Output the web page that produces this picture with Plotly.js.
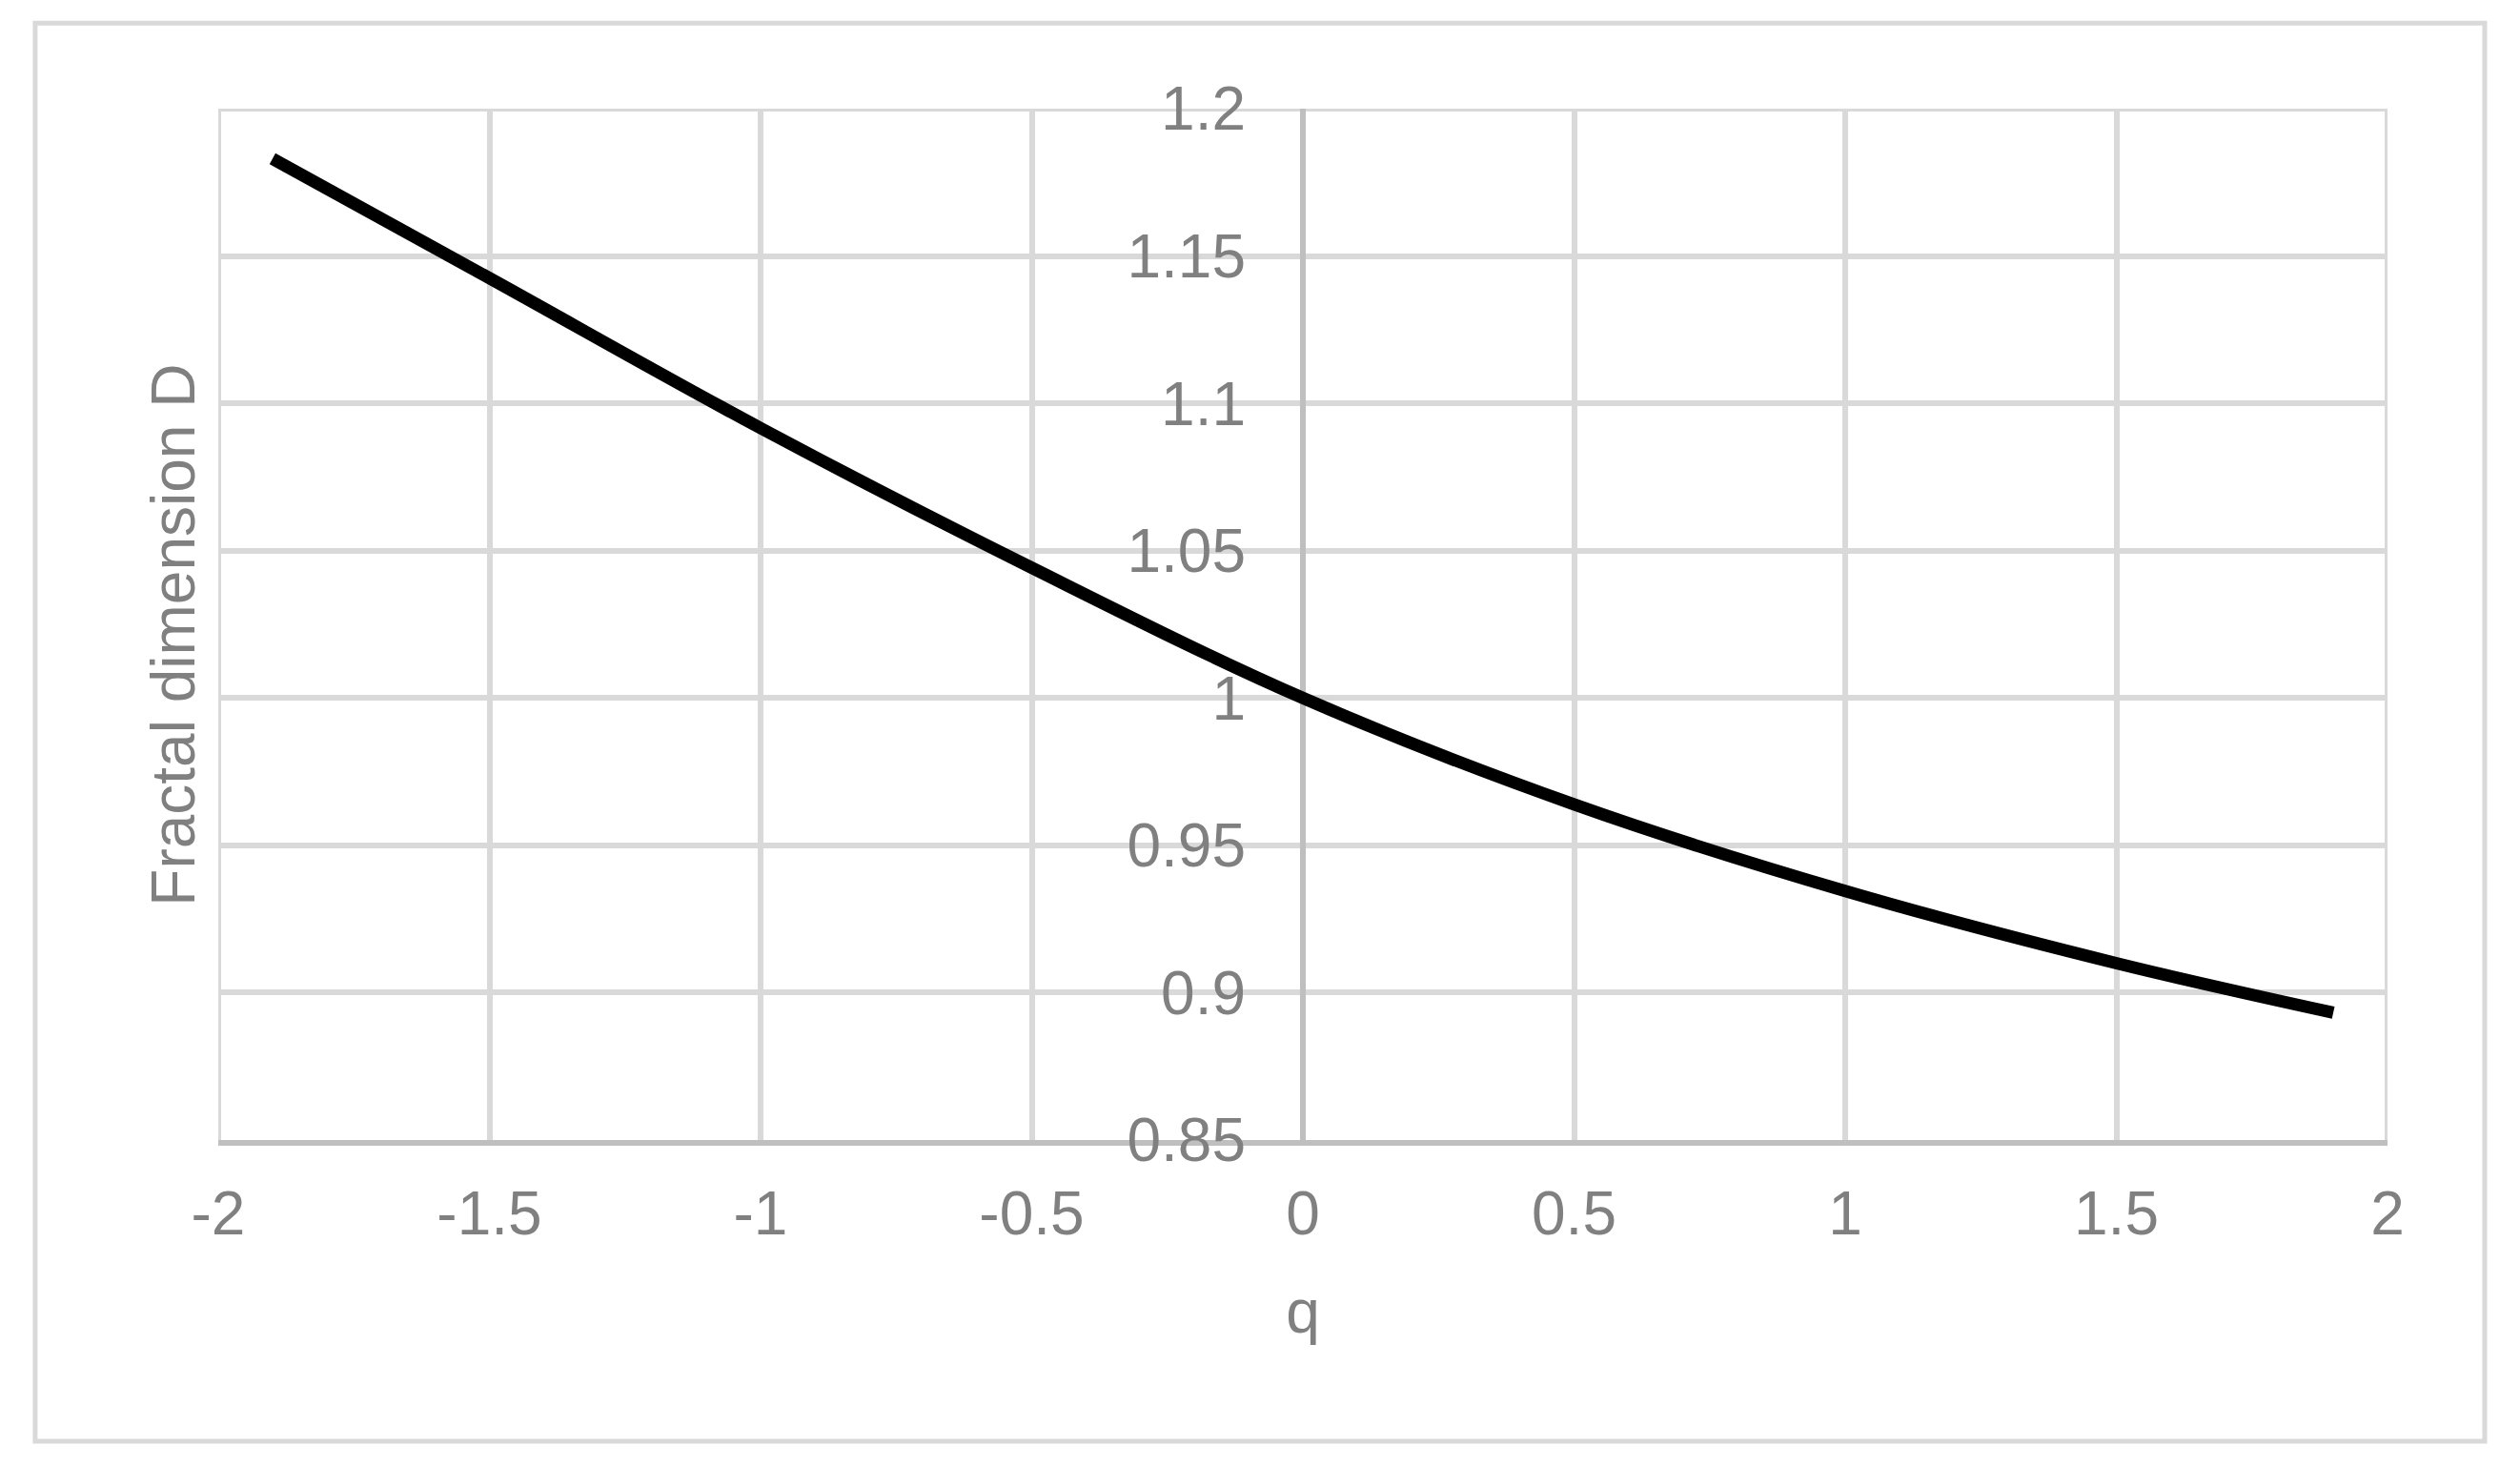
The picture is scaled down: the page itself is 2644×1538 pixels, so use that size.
<!DOCTYPE html>
<html>
<head>
<meta charset="utf-8">
<script src="https://cdn.plot.ly/plotly-3.0.1.min.js"></script>
<style>
  html, body { margin: 0; padding: 0; background: #ffffff; }
  #plot { width: 2644px; height: 1538px; }
</style>
</head>
<body>
<div id="plot"></div>
<script>
// values
let qValues = [-1.9, -1.5, -1, -0.5, 0, 0.5, 1, 1.5, 1.9];
let dValues = [1.183, 1.1425, 1.0916, 1.0442, 1.0, 0.9639, 0.9345, 0.910, 0.8932];

// axis ticks
let xTickVals = [-2, -1.5, -1, -0.5, 0, 0.5, 1, 1.5, 2];
let xTickText = ["-2", "-1.5", "-1", "-0.5", "0", "0.5", "1", "1.5", "2"];
let yTickVals = [0.85, 0.9, 0.95, 1, 1.05, 1.1, 1.15, 1.2];
let yTickText = ["0.85", "0.9", "0.95", "1", "1.05", "1.1", "1.15", "1.2"];

let gridGrey = "#d9d9d9";
let axisGrey = "#bfbfbf";
let textGrey = "#808080";

let trace1 = {
  x: qValues,
  y: dValues,
  type: "scatter",
  mode: "lines",
  line: { color: "#000000", width: 13, shape: "spline", smoothing: 1 },
  hoverinfo: "x+y"
};

let xMin = xTickVals[0], xMax = xTickVals[xTickVals.length - 1];
let yMin = yTickVals[0], yMax = yTickVals[yTickVals.length - 1];

let layout = {
  width: 2644,
  height: 1538,
  margin: { l: 229, r: 139, t: 114, b: 342 },
  paper_bgcolor: "#ffffff",
  plot_bgcolor: "#ffffff",
  showlegend: false,
  font: { family: "Liberation Sans, Arial, sans-serif", size: 64, color: textGrey },
  xaxis: {
    range: [xMin, xMax],
    tickvals: xTickVals,
    ticktext: xTickText,
    ticks: "",
    ticklabelstandoff: 16,
    showgrid: true,
    gridcolor: gridGrey,
    gridwidth: 6,
    zeroline: true,
    zerolinecolor: axisGrey,
    zerolinewidth: 6,
    showline: true,
    linecolor: axisGrey,
    linewidth: 6,
    title: { text: "q", standoff: 47, font: { size: 64, color: textGrey } }
  },
  yaxis: {
    range: [yMin, yMax],
    tickvals: yTickVals,
    ticktext: yTickText,
    ticks: "",
    anchor: "free",
    position: 0.5,
    ticklabelstandoff: 60,
    showgrid: true,
    gridcolor: gridGrey,
    gridwidth: 6,
    zeroline: false,
    showline: false
  },
  annotations: [{
    text: "Fractal dimension D",
    textangle: -90,
    xref: "paper", yref: "paper",
    x: -0.0207, y: 0.49,
    xanchor: "center", yanchor: "middle",
    showarrow: false,
    font: { size: 64, color: textGrey }
  }],
  shapes: [
    {
      // outer chart border
      type: "rect",
      xref: "paper", yref: "paper",
      x0: -0.0844, x1: 1.0448,
      y0: -0.292, y1: 1.083,
      line: { color: gridGrey, width: 5 },
      fillcolor: "rgba(0,0,0,0)",
      layer: "below"
    },
    {
      // gridlines at the left, top and right range edges
      type: "path",
      xref: "x", yref: "y",
      path: "M " + xMin + "," + yMin + " L " + xMin + "," + yMax +
            " L " + xMax + "," + yMax + " L " + xMax + "," + yMin,
      line: { color: gridGrey, width: 6 },
      layer: "below"
    }
  ]
};

Plotly.newPlot("plot", [trace1], layout, { displayModeBar: false, staticPlot: true });
</script>
</body>
</html>
